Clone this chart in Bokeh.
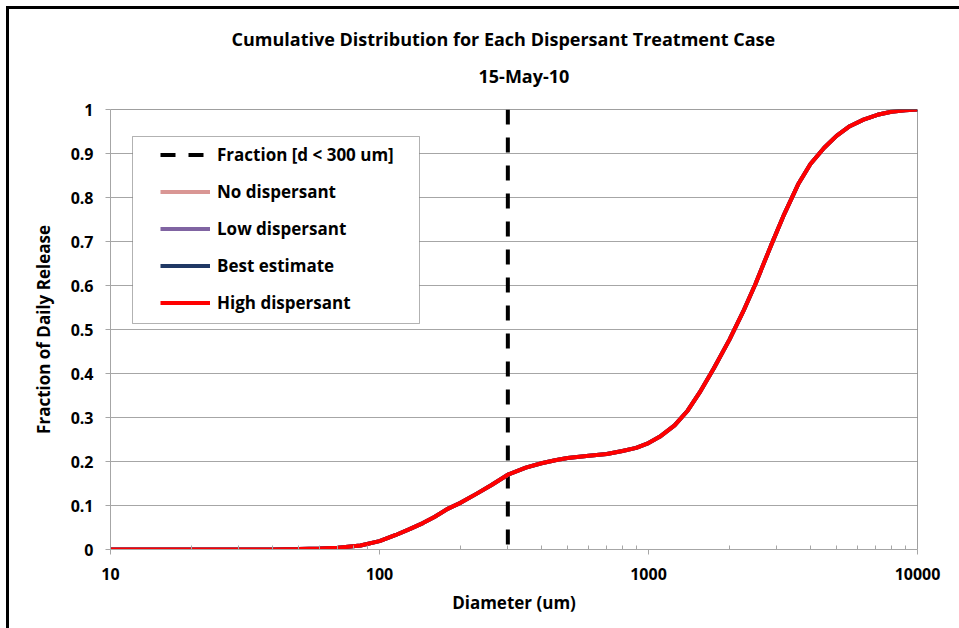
from bokeh.plotting import figure
from bokeh.layouts import column
from bokeh.models import (Range1d, Span, Title, Legend, LegendItem, BoxAnnotation,
                          FixedTicker, SingleIntervalTicker, NumeralTickFormatter)
from bokeh.embed import file_html
from bokeh.resources import INLINE

# Cumulative droplet size distribution, 15-May-10
diameter_um = [10, 20, 30, 40, 50, 60, 70, 85, 100, 115, 130, 145, 160, 180, 200,
               230, 260, 300, 350, 400, 450, 500, 600, 700, 800, 900, 1000, 1100,
               1250, 1400, 1550, 1750, 2000, 2250, 2500, 2850, 3200, 3600, 4000,
               4500, 5000, 5600, 6300, 7100, 8000, 9000, 10000]
cumulative_fraction = [0, 0, 0, 0, 0.001, 0.002, 0.004, 0.009, 0.019, 0.033, 0.047,
                       0.060, 0.074, 0.093, 0.106, 0.127, 0.146, 0.170, 0.186, 0.196,
                       0.203, 0.208, 0.213, 0.217, 0.224, 0.231, 0.242, 0.256, 0.282,
                       0.316, 0.357, 0.412, 0.477, 0.541, 0.604, 0.690, 0.763, 0.830,
                       0.876, 0.913, 0.940, 0.962, 0.977, 0.988, 0.995, 0.998, 1.0]

# The four treatment cases give the same curve on this day
case_names = ["No dispersant", "Low dispersant", "Best estimate", "High dispersant"]
case_colors = ["#D99694", "#8064A2", "#1F3864", "#FF0000"]
case_fractions = [cumulative_fraction] * 4

# vertical marker at the 300 um cut-off, drawn top to bottom
cutoff_um = 300
cutoff_fraction_span = [1, 0]
cutoff_label = "Fraction [d < 300 um]"

x_major = [10, 100, 1000, 10000]
x_minor = [m * 10 ** e for e in range(1, 4) for m in range(2, 10)]

FONT = "Open Sans"
GRID = "#a6a6a6"

p = figure(width=950, height=619, x_axis_type="log", title=None,
           x_range=Range1d(10, 10000), y_range=Range1d(0, 1),
           output_backend="svg", toolbar_location=None,
           min_border_left=101, min_border_right=42,
           min_border_top=100, min_border_bottom=79)
p.outline_line_color = None
p.background_fill_color = "white"
p.border_fill_color = "white"

# axes
p.xaxis.ticker = FixedTicker(ticks=x_major, minor_ticks=x_minor)
p.xaxis.formatter = NumeralTickFormatter(format="0")
p.yaxis.ticker = SingleIntervalTicker(interval=0.1, num_minor_ticks=0)
p.yaxis.formatter = NumeralTickFormatter(format="0.[0]")
for ax in (p.xaxis[0], p.yaxis[0]):
    ax.axis_line_color = GRID
    ax.major_tick_line_color = GRID
    ax.minor_tick_line_color = GRID
    ax.major_tick_in = 0
    ax.major_tick_out = 5
    ax.major_label_text_font = FONT
    ax.major_label_text_font_style = "bold"
    ax.major_label_text_font_size = "16px"
    ax.major_label_text_color = "black"
    ax.axis_label_text_font = FONT
    ax.axis_label_text_font_style = "bold"
    ax.axis_label_text_font_size = "17px"
    ax.axis_label_text_color = "black"
p.xaxis.minor_tick_in = 4
p.xaxis.minor_tick_out = 0
p.xaxis.major_label_standoff = 13
p.xaxis.axis_label_standoff = 8
p.yaxis.major_label_standoff = 12
p.yaxis.axis_label_standoff = 13
p.xaxis.axis_label = "Diameter (um)"
p.yaxis.axis_label = "Fraction of Daily Release"

p.xgrid.grid_line_color = None
p.ygrid.grid_line_color = GRID
p.ygrid.grid_line_width = 1

# top and right edges of the plot area
p.add_layout(Span(location=1, dimension="width", line_color="#404040", line_width=1))
p.add_layout(Span(location=10000, dimension="height", line_color="#404040", line_width=1))

# series
items = []
cut = p.line([cutoff_um, cutoff_um], cutoff_fraction_span, line_color="black",
             line_width=4, line_dash="15 13")
items.append(LegendItem(label=cutoff_label, renderers=[cut]))
for name, color, frac in zip(case_names, case_colors, case_fractions):
    r = p.line(diameter_um, frac, line_color=color, line_width=4)
    items.append(LegendItem(label=name, renderers=[r]))

# legend box
p.add_layout(BoxAnnotation(left=22, right=309, bottom=226, top=413,
                           left_units="screen", right_units="screen",
                           top_units="screen", bottom_units="screen",
                           fill_color="white", fill_alpha=1,
                           line_color="black", line_width=1))
legend = Legend(items=items, location=(50, 235), padding=0, margin=0,
                glyph_width=50, glyph_height=23, label_height=23, spacing=14,
                label_standoff=7, border_line_color=None,
                background_fill_alpha=0,
                label_text_font=FONT, label_text_font_style="bold",
                label_text_font_size="17px", label_text_color="black")
p.add_layout(legend, "center")

# titles (date line sits next to the plot, main title above it)
p.add_layout(Title(text="15-May-10", align="left", offset=368,
                   vertical_align="bottom", standoff=44,
                   text_font=FONT, text_font_style="bold", text_font_size="18px",
                   text_color="black"), "above")
p.add_layout(Title(text="Cumulative Distribution for Each Dispersant Treatment Case",
                   align="left", offset=121, vertical_align="bottom", standoff=-22,
                   text_font=FONT, text_font_style="bold", text_font_size="18px",
                   text_color="black"), "above")

# chart area frame drawn around the figure
root = column(p, styles={"border-left": "3px solid #000", "border-top": "3px solid #000",
                         "margin-left": "6px", "margin-top": "6px"})

open("out.html", "w").write(file_html(root, INLINE))
